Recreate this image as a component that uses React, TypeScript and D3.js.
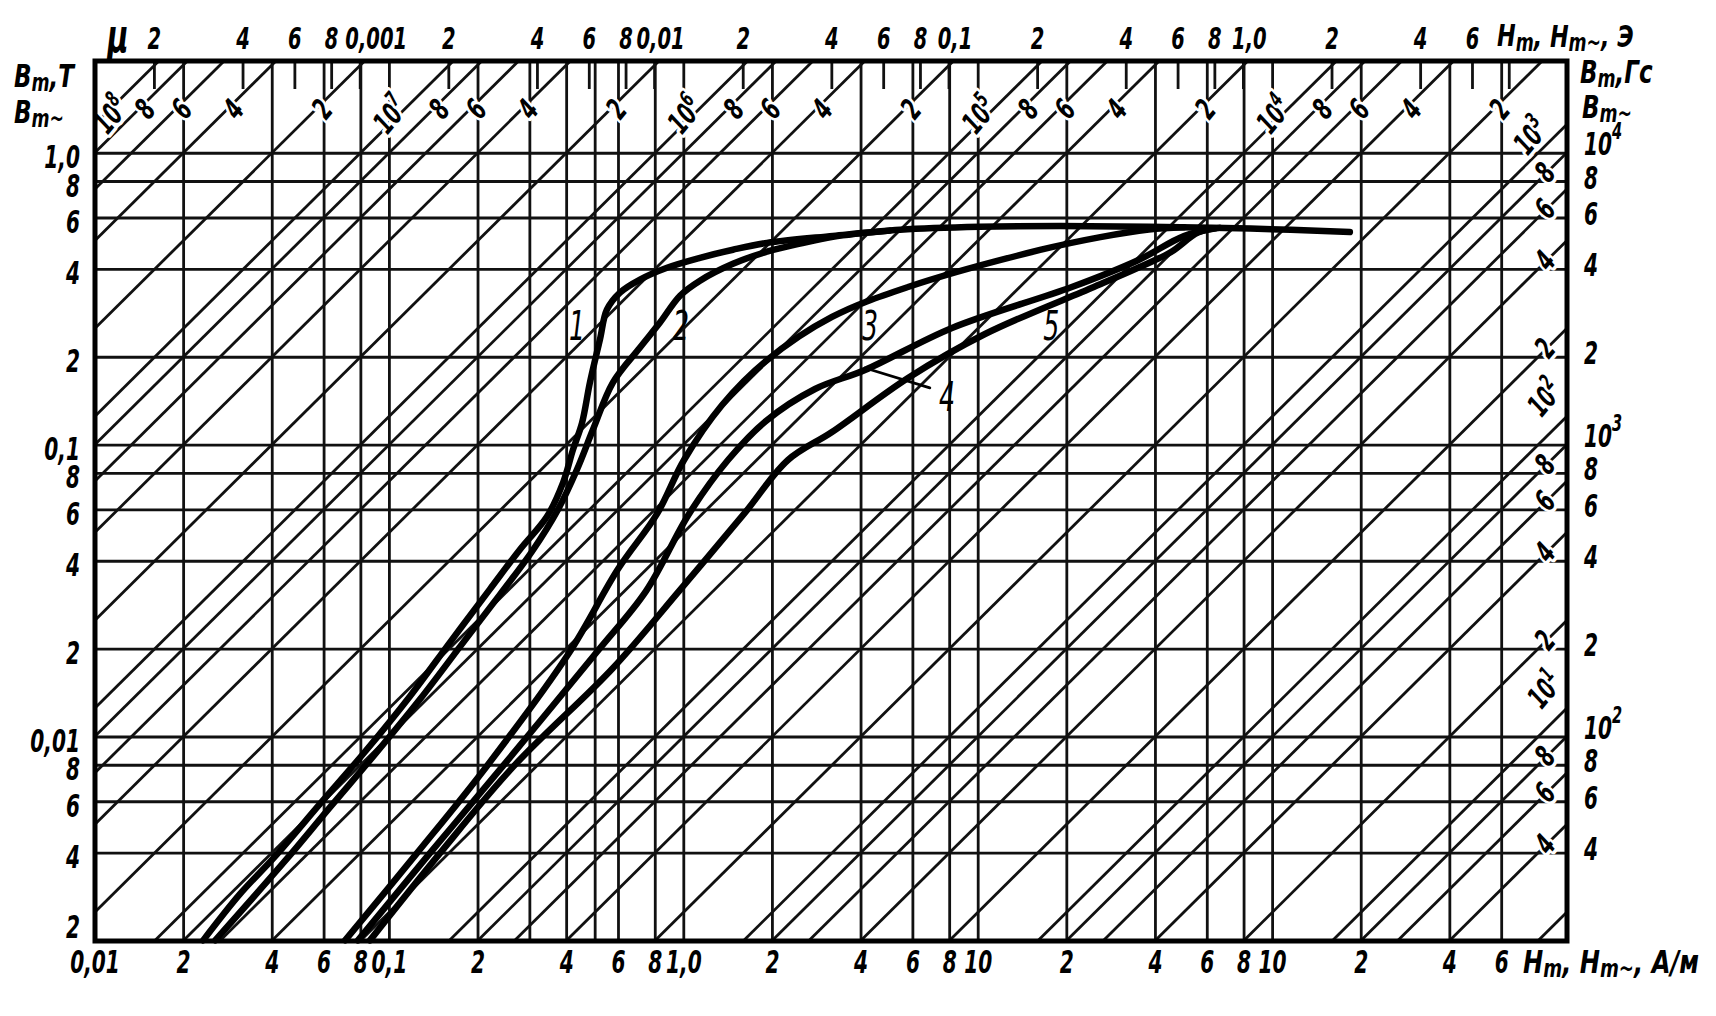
import React from 'react';
import * as d3 from 'd3';

const MU0 = 4 * Math.PI * 1e-7;
const OE = 1000 / (4 * Math.PI); // A/m in one oersted

// bottom axis, H in A/m
const hTicks = [0.01, 0.02, 0.04, 0.06, 0.08, 0.1, 0.2, 0.4, 0.6, 0.8, 1, 2, 4, 6, 8, 10, 20, 40, 60, 80, 100, 200, 400, 600];
const hTickLabels = ['0,01', '2', '4', '6', '8', '0,1', '2', '4', '6', '8', '1,0', '2', '4', '6', '8', '10', '2', '4', '6', '8', '10', '2', '4', '6'];
const hExtraLines = [0.3, 0.5];

// top axis, H in Oe
const oeTicks = [0.0002, 0.0004, 0.0006, 0.0008, 0.001, 0.002, 0.004, 0.006, 0.008, 0.01, 0.02, 0.04, 0.06, 0.08, 0.1, 0.2, 0.4, 0.6, 0.8, 1, 2, 4, 6, 8];
const oeTickLabels = ['2', '4', '6', '8', '0,001', '2', '4', '6', '8', '0,01', '2', '4', '6', '8', '0,1', '2', '4', '6', '8', '1,0', '2', '4', '6', ''];

// left axis, B in T
const bTicks = [1, 0.8, 0.6, 0.4, 0.2, 0.1, 0.08, 0.06, 0.04, 0.02, 0.01, 0.008, 0.006, 0.004, 0.002];
const bTickLabels = ['1,0', '8', '6', '4', '2', '0,1', '8', '6', '4', '2', '0,01', '8', '6', '4', '2'];

// right axis, B in Gs
const gsTicks = [10000, 8000, 6000, 4000, 2000, 1000, 800, 600, 400, 200, 100, 80, 60, 40];
const gsTickLabels = ['10^4', '8', '6', '4', '2', '10^3', '8', '6', '4', '2', '10^2', '8', '6', '4'];

// permeability lines
const muValues = [1e8, 8e7, 6e7, 4e7, 2e7, 1e7, 8e6, 6e6, 4e6, 2e6, 1e6, 8e5, 6e5, 4e5, 2e5, 1e5, 8e4, 6e4, 4e4, 2e4, 1e4, 8000, 6000, 4000, 2000, 1000, 800, 600, 400, 200, 100, 80, 60, 40, 20, 10, 8, 6, 4, 2];
const muLabels = ['10^8', '8', '6', '4', '2', '10^7', '8', '6', '4', '2', '10^6', '8', '6', '4', '2', '10^5', '8', '6', '4', '2', '10^4', '8', '6', '4', '2', '10^3', '8', '6', '4', '2', '10^2', '8', '6', '4', '2', '10^1', '8', '6', '4', ''];

// magnetisation curves, [H A/m, B T]
const curve1 = [[0.0233, 0.00201], [0.0311, 0.0029], [0.0409, 0.0039], [0.0581, 0.0059], [0.0826, 0.0089], [0.1175, 0.0138], [0.1606, 0.0211], [0.2196, 0.0321], [0.2777, 0.0439], [0.343, 0.0569], [0.389, 0.0744], [0.4204, 0.0965], [0.451, 0.119], [0.48, 0.164], [0.519, 0.23], [0.548, 0.291], [0.607, 0.333], [0.71, 0.369], [0.877, 0.405], [1.135, 0.438], [1.469, 0.467], [1.917, 0.493], [3.21, 0.521], [5.43, 0.547], [10.1, 0.56], [19, 0.563], [38, 0.56], [84, 0.552], [183, 0.537]];
const curve2 = [[0.0256, 0.00201], [0.0442, 0.00376], [0.0629, 0.00575], [0.0894, 0.00873], [0.127, 0.01346], [0.1764, 0.0208], [0.2376, 0.0308], [0.305, 0.0432], [0.374, 0.0602], [0.4337, 0.0825], [0.4915, 0.113], [0.5748, 0.164], [0.71, 0.216], [0.83, 0.263], [0.971, 0.325], [1.135, 0.366], [1.469, 0.418], [1.917, 0.46], [2.481, 0.49], [3.21, 0.517], [5.0, 0.543]];
const curve3 = [[0.0707, 0.00201], [0.1241, 0.004], [0.2145, 0.00796], [0.4075, 0.0194], [0.5978, 0.0376], [0.811, 0.0581], [1.0016, 0.0889], [1.349, 0.1372], [1.902, 0.1942], [3.187, 0.2748], [5.776, 0.348], [16.22, 0.4662], [26, 0.516], [38, 0.548], [50, 0.558]];
const curve4 = [[0.0782, 0.00201], [0.1373, 0.004], [0.2432, 0.00796], [0.5034, 0.0194], [0.7441, 0.0316], [1.0416, 0.0581], [1.413, 0.0889], [1.902, 0.121], [2.791, 0.1557], [4.126, 0.1809], [8.147, 0.252], [20.8, 0.348], [34.9, 0.43], [50, 0.52], [64, 0.553]];
const curve5 = [[0.0859, 0.00201], [0.1486, 0.004], [0.265, 0.00796], [0.5748, 0.01724], [0.9632, 0.0316], [1.601, 0.0581], [2.259, 0.0889], [3.187, 0.1109], [5.776, 0.1698], [10.55, 0.2402], [24.7, 0.348], [34.9, 0.405], [45.2, 0.459], [55.8, 0.535], [66, 0.555]];

const curves = [curve1, curve2, curve3, curve4, curve5];
const curveNames = ['1', '2', '3', '4', '5'];
const curveLabelH = [0.434, 0.978, 4.29, 7.84, 17.7];
const curveLabelB = [0.2566, 0.2566, 0.2566, 0.1466, 0.2566];
const leader4 = [[4.13, 0.1837], [6.85, 0.157]];

const FONT = "'DejaVu Sans Condensed', 'DejaVu Sans', sans-serif";
const SX = 0.7; // squeeze text to look like the narrow hand lettering

function Pow({ s, sup = 11 }: { s: string; sup?: number }) {
  const [base, exp] = s.split('^');
  if (!exp) return <>{base}</>;
  return (
    <>
      <tspan>{base}</tspan>
      <tspan dy={-sup} fontSize="0.72em">{exp}</tspan>
    </>
  );
}

// narrow text at (x, y)
function T({ x, y, rotate = 0, anchor = 'middle', sx = SX, children, ...rest }: any) {
  return (
    <text transform={`translate(${x},${y}) rotate(${rotate}) scale(${sx},1)`} textAnchor={anchor}
      dominantBaseline="central" {...rest}>
      {children}
    </text>
  );
}

export default function App() {
  const width = 1716;
  const height = 1016;
  const x = d3.scaleLog().domain([0.01, 1000]).range([95, 1567]);
  const y = d3.scaleLog().domain([0.002, 2.07]).range([941, 61]);
  const [xl, xr] = x.range();
  const [yb, yt] = y.range();
  const [hMin, hMax] = x.domain();
  const [bMin, bMax] = y.domain();

  const line = d3.line<number[]>()
    .x(d => x(d[0]))
    .y(d => y(d[1]))
    .curve(d3.curveCatmullRom.alpha(0.5));

  const ink = '#111';
  const gw = 2.8;

  return (
    <svg width={width} height={height} style={{ position: 'absolute', left: 0, top: 0, background: '#fff' }}
      fontFamily={FONT} fontStyle="italic" fontWeight="bold">
      <rect width={width} height={height} fill="#fff" />

      {/* grid */}
      <g stroke={ink} strokeWidth={gw}>
        {hTicks.concat(hExtraLines).map((h, i) => (
          <line key={'v' + i} x1={x(h)} x2={x(h)} y1={yt} y2={yb} />
        ))}
        {bTicks.map((b, i) => (
          <line key={'h' + i} x1={xl} x2={xr} y1={y(b)} y2={y(b)} />
        ))}
        {oeTicks.map((o, i) => (
          <line key={'o' + i} x1={x(o * OE)} x2={x(o * OE)} y1={yt} y2={yt + 28} />
        ))}
      </g>

      {/* permeability lines */}
      <g stroke={ink} strokeWidth={gw}>
        {muValues.map((mu, i) => {
          const k = mu * MU0;
          const h0 = Math.max(hMin, bMin / k);
          const h1 = Math.min(hMax, bMax / k);
          if (h0 >= h1) return null;
          return <line key={'mu' + i} x1={x(h0)} y1={y(k * h0)} x2={x(h1)} y2={y(k * h1)} />;
        })}
      </g>
      <g fontSize={30} fill="#000">
        {muValues.map((mu, i) => {
          const lab = muLabels[i];
          if (!lab) return null;
          const k = mu * MU0;
          const isPow = lab.includes('^');
          let px: number, py: number;
          if (bMax / k < hMax) {
            const b = y.invert(yt + 48);
            px = x(b / k) + (isPow ? -14 : 6);
            py = y(b) + (isPow ? 6 : 0);
            px = Math.max(px, xl + 16);
          } else {
            px = xr - 22;
            py = y(k * x.invert(px));
            if (isPow) {
              if (py - 40 < yt + 60) { px -= 14; py -= 10; } else py -= 40;
            } else py -= 2;
          }
          return (
            <T key={'ml' + i} x={px} y={py} rotate={-50}
              stroke="#fff" strokeWidth={7} paintOrder="stroke" strokeLinejoin="round">
              <Pow s={lab} sup={10} />
            </T>
          );
        })}
      </g>

      {/* curves */}
      <g fill="none" stroke="#000" strokeWidth={6.5} strokeLinecap="round" strokeLinejoin="round">
        {curves.map((c, i) => <path key={'c' + i} d={line(c) || ''} />)}
        <path d={line(leader4) || ''} strokeWidth={2.8} />
      </g>
      <g fontSize={40} fontWeight="normal" fill="#000">
        {curveNames.map((n, i) => (
          <T key={'cl' + i} x={x(curveLabelH[i])} y={y(curveLabelB[i])}>{n}</T>
        ))}
      </g>

      {/* frame */}
      <rect x={xl} y={yt} width={xr - xl} height={yb - yt} fill="none" stroke="#000" strokeWidth={5} />

      {/* bottom axis */}
      <g fontSize={32} fill="#000">
        {hTicks.map((h, i) => <T key={'bt' + i} x={x(h)} y={962}>{hTickLabels[i]}</T>)}
        <T x={1523} y={962} anchor="start" sx={0.84}>
          H<tspan dy={6} fontSize={24}>m</tspan><tspan dy={-6}>, H</tspan><tspan dy={6} fontSize={24}>m~</tspan><tspan dy={-6}>, A/м</tspan>
        </T>
      </g>

      {/* top axis */}
      <g fontSize={31} fill="#000">
        {oeTicks.map((o, i) => {
          const lab = oeTickLabels[i];
          if (!lab) return null;
          const shift = lab.length > 4 ? 16 : lab.includes(',') ? 6 : 0;
          return <T key={'tt' + i} x={x(o * OE) + shift} y={38}>{lab}</T>;
        })}
        <T x={1497} y={36} anchor="start" sx={0.8}>
          H<tspan dy={6} fontSize={24}>m</tspan><tspan dy={-6}>, H</tspan><tspan dy={6} fontSize={24}>m~</tspan><tspan dy={-6}>, Э</tspan>
        </T>
        <T x={118} y={36} fontSize={46}>μ</T>
      </g>

      {/* left axis */}
      <g fontSize={32} fill="#000">
        {bTicks.map((b, i) => (
          <T key={'lt' + i} x={80} y={Math.min(y(b) + 4, yb - 14)} anchor="end">{bTickLabels[i]}</T>
        ))}
        <T x={14} y={76} anchor="start" sx={0.8}>
          B<tspan dy={6} fontSize={24}>m</tspan><tspan dy={-6}>,T</tspan>
        </T>
        <T x={14} y={112} anchor="start" sx={0.8}>
          B<tspan dy={6} fontSize={24}>m~</tspan>
        </T>
      </g>

      {/* right axis */}
      <g fontSize={32} fill="#000">
        {gsTicks.map((g, i) => (
          <T key={'rt' + i} x={1584} y={y(g / 1e4) - (gsTickLabels[i].includes('^') ? 10 : 4)} anchor="start">
            <Pow s={gsTickLabels[i]} sup={12} />
          </T>
        ))}
        <T x={1580} y={72} anchor="start" sx={0.8}>
          B<tspan dy={6} fontSize={24}>m</tspan><tspan dy={-6}>,Гс</tspan>
        </T>
        <T x={1582} y={107} anchor="start" sx={0.8}>
          B<tspan dy={6} fontSize={24}>m~</tspan>
        </T>
      </g>
    </svg>
  );
}
